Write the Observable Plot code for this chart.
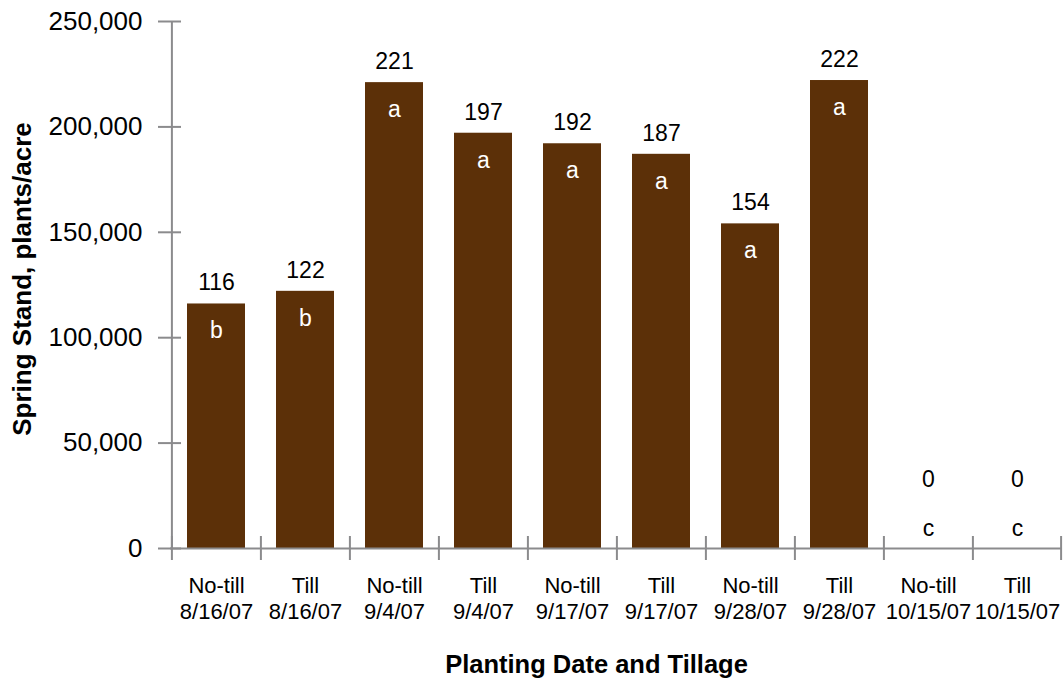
<!DOCTYPE html>
<html><head><meta charset="utf-8">
<script src="https://cdn.jsdelivr.net/npm/d3@7"></script>
<script src="https://cdn.jsdelivr.net/npm/@observablehq/plot@0.6"></script>
<style>body{margin:0;background:#fff}</style>
</head><body><div id="chart"></div>
<script>
const tillage = ["No-till","Till","No-till","Till","No-till","Till","No-till","Till","No-till","Till"];
const dates = ["8/16/07","8/16/07","9/4/07","9/4/07","9/17/07","9/17/07","9/28/07","9/28/07","10/15/07","10/15/07"];
const stand = [116000,122000,221000,197000,192000,187000,154000,222000,0,0];
const letters = ["b","b","a","a","a","a","a","a","c","c"];
const yTicks = [0,50000,100000,150000,200000,250000];
const xTitle = "Planting Date and Tillage";
const yTitle = "Spring Stand, plants/acre";

const data = stand.map((v,i)=>({label: tillage[i]+"\n"+dates[i], value: v, letter: letters[i], shown: String(Math.round(v/1000))}));
const labels = data.map(d=>d.label);
const nonzero = data.filter(d=>d.value>0);
const zero = data.filter(d=>d.value===0);

const W = 1063, H = 686, ML = 170, MR = 1, MT = 21, MB = 138;
const frameW = W - ML - MR;
const step = frameW / labels.length;
const axisColor = "#8b8b8d";
const font = "'Liberation Sans', Arial, Helvetica, sans-serif";

const chart = Plot.plot({
  width: W, height: H,
  marginLeft: ML, marginRight: MR, marginTop: MT, marginBottom: MB,
  style: {fontFamily: font, color: "#000", background: "#fff"},
  x: {domain: labels, paddingInner: 0.35, paddingOuter: 0.175},
  y: {domain: [0, 250000]},
  marks: [
    Plot.barY(data, {x: "label", y: "value", fill: "#5c3008"}),
    // axis lines
    Plot.ruleY([0], {stroke: axisColor, strokeWidth: 2}),
    Plot.tickX([labels[0]], {x: d=>d, dx: -step/2, stroke: axisColor, strokeWidth: 2}),
    // y ticks crossing the axis
    Plot.tickY(yTicks, {y: d=>d, dx: -12, insetRight: frameW - 23, stroke: axisColor, strokeWidth: 2}),
    // x ticks at band boundaries
    Plot.tickX(labels, {x: d=>d, dx: -step/2, insetTop: H - MT - MB - 12, insetBottom: -12, stroke: axisColor, strokeWidth: 2}),
    Plot.tickX([labels[labels.length-1]], {x: d=>d, dx: step/2 - 1, insetTop: H - MT - MB - 12, insetBottom: -12, stroke: axisColor, strokeWidth: 2}),
    Plot.axisY({ticks: yTicks, tickSize: 0, tickPadding: 28, fontSize: 26, tickFormat: d3.format(","), label: null}),
    Plot.axisX({tickSize: 0, tickPadding: 26, fontSize: 22, lineHeight: 1.18, label: null}),
    // value labels
    Plot.text(nonzero, {x: "label", y: "value", text: "shown", dy: -21, fontSize: 23, fill: "#000"}),
    Plot.text(nonzero, {x: "label", y: "value", text: "letter", dy: 27, fontSize: 23, fill: "#fff"}),
    Plot.text(zero, {x: "label", y: "value", text: "shown", dy: -69, fontSize: 23, fill: "#000"}),
    Plot.text(zero, {x: "label", y: "value", text: "letter", dy: -20, fontSize: 23, fill: "#000"}),
    // axis titles
    Plot.text([xTitle], {frameAnchor: "bottom", text: d=>d, dy: 124, dx: -20, fontSize: 25.5, fontWeight: "bold", fill: "#000"}),
    Plot.text([yTitle], {frameAnchor: "left", textAnchor: "middle", text: d=>d, rotate: -90, dx: -148, dy: -6, fontSize: 26, fontWeight: "bold", fill: "#000"})
  ]
});
document.getElementById("chart").appendChild(chart);
</script>
</body></html>
